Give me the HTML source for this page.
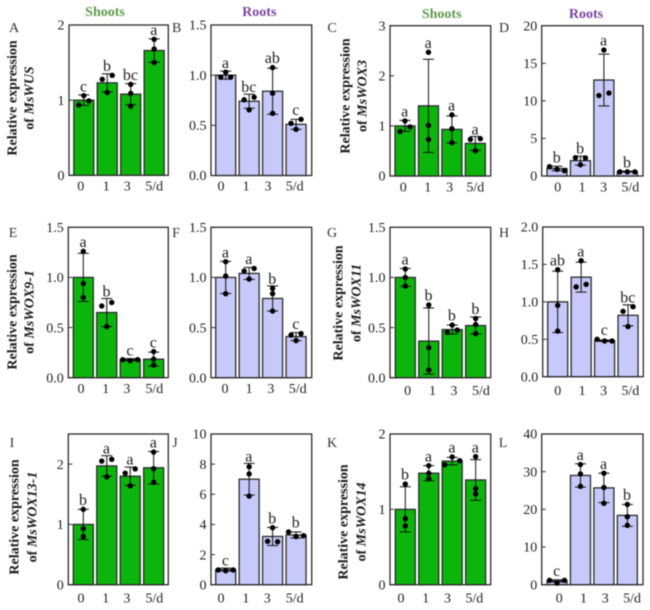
<!DOCTYPE html>
<html>
<head>
<meta charset="utf-8">
<title>Relative expression of MsWOX genes</title>
<style>
html,body{margin:0;padding:0;background:#fff;width:650px;height:610px;overflow:hidden}
svg{display:block;filter:blur(0.4px)}
text{font-family:"Liberation Serif",serif}
</style>
</head>
<body>
<svg id="figure" width="650" height="610" viewBox="0 0 650 610" xmlns="http://www.w3.org/2000/svg"></svg>
<script>
const categories = ['0', '1', '3', '5/d'];

const ticksA = ['0', '1', '2'];
const maxA = 2;
const meansA = [1.0, 1.23, 1.08, 1.66];
const errorsA = [0.07, 0.12, 0.14, 0.155];
const pointsA = [[0.936, 1.06, 0.99], [1.1, 1.277, 1.33], [1.21, 1.09, 0.92], [1.81, 1.68, 1.5]];
const lettersA = ['c', 'b', 'bc', 'a'];

const ticksB = ['0.0', '0.5', '1.0', '1.5'];
const maxB = 1.5;
const meansB = [1.0, 0.74, 0.84, 0.51];
const errorsB = [0.04, 0.07, 0.23, 0.05];
const pointsB = [[0.98, 1.03, 0.98], [0.755, 0.78, 0.655], [1.076, 0.82, 0.62], [0.52, 0.56, 0.46]];
const lettersB = ['a', 'bc', 'ab', 'c'];

const ticksC = ['0', '1', '2', '3'];
const maxC = 3;
const meansC = [1.0, 1.4, 0.93, 0.65];
const errorsC = [0.11, 0.93, 0.27, 0.14];
const pointsC = [[0.89, 1.1, 0.98], [2.47, 1.01, 0.73], [1.22, 0.945, 0.665], [0.73, 0.745, 0.505]];
const lettersC = ['a', 'a', 'a', 'a'];

const ticksD = ['0', '5', '10', '15', '20'];
const maxD = 20;
const meansD = [1.0, 2.04, 12.77, 0.6];
const errorsD = [0.3, 0.6, 3.45, 0.05];
const pointsD = [[1.24, 0.89, 0.71], [2.44, 2.4, 1.5], [16.76, 10.7, 11.04], [0.55, 0.55, 0.55]];
const lettersD = ['b', 'b', 'a', 'b'];

const ticksE = ['0.0', '0.5', '1.0', '1.5'];
const maxE = 1.5;
const meansE = [1.0, 0.65, 0.18, 0.185];
const errorsE = [0.24, 0.14, 0.01, 0.07];
const pointsE = [[1.26, 0.94, 0.8], [0.715, 0.75, 0.51], [0.18, 0.17, 0.18], [0.26, 0.186, 0.126]];
const lettersE = ['a', 'b', 'c', 'c'];

const ticksF = ['0.0', '0.5', '1.0', '1.5'];
const maxF = 1.5;
const meansF = [1.0, 1.04, 0.79, 0.41];
const errorsF = [0.16, 0.06, 0.125, 0.04];
const pointsF = [[1.157, 1.014, 0.838], [1.064, 1.09, 0.984], [0.89, 0.838, 0.665], [0.425, 0.44, 0.37]];
const lettersF = ['a', 'a', 'b', 'c'];

const ticksG = ['0.0', '0.5', '1.0', '1.5'];
const maxG = 1.5;
const meansG = [1.0, 0.365, 0.48, 0.52];
const errorsG = [0.09, 0.33, 0.045, 0.085];
const pointsG = [[1.084, 1.0, 0.914], [0.725, 0.3, 0.076], [0.452, 0.525, 0.475], [0.59, 0.53, 0.44]];
const lettersG = ['a', 'b', 'b', 'b'];

const ticksH = ['0.0', '0.5', '1.0', '1.5', '2.0'];
const maxH = 2;
const meansH = [1.0, 1.33, 0.48, 0.82];
const errorsH = [0.41, 0.2, 0.01, 0.14];
const pointsH = [[1.43, 0.953, 0.61], [1.55, 1.2, 1.234], [0.5, 0.477, 0.477], [0.873, 0.935, 0.67]];
const lettersH = ['ab', 'a', 'c', 'bc'];

const ticksI = ['0', '1', '2'];
const maxI = 2.5;
const meansI = [1.0, 1.97, 1.8, 1.94];
const errorsI = [0.25, 0.17, 0.15, 0.27];
const pointsI = [[1.25, 0.93, 0.8], [2.05, 2.08, 1.79], [1.85, 1.92, 1.64], [2.2, 1.925, 1.7]];
const lettersI = ['b', 'a', 'a', 'a'];

const ticksJ = ['0', '2', '4', '6', '8', '10'];
const maxJ = 10;
const meansJ = [1.0, 7.0, 3.2, 3.3];
const errorsJ = [0.1, 1.05, 0.6, 0.2];
const pointsJ = [[0.98, 0.93, 0.98], [7.83, 7.35, 5.88], [3.78, 2.88, 2.85], [3.5, 3.19, 3.25]];
const lettersJ = ['c', 'a', 'b', 'b'];

const ticksK = ['0', '1', '2'];
const maxK = 2;
const meansK = [1.0, 1.48, 1.64, 1.39];
const errorsK = [0.3, 0.1, 0.05, 0.27];
const pointsK = [[1.336, 0.876, 0.78], [1.58, 1.478, 1.407], [1.593, 1.695, 1.646], [1.7, 1.274, 1.204]];
const lettersK = ['b', 'a', 'a', 'a'];

const ticksL = ['0', '10', '20', '30', '40'];
const maxL = 40;
const meansL = [1.0, 29, 25.7, 18.4];
const errorsL = [0.3, 3.1, 3.9, 2.9];
const pointsL = [[1.15, 0.44, 1.15], [31.9, 29.4, 26.1], [29.6, 25.8, 21.6], [21.3, 18.05, 15.75]];
const lettersL = ['c', 'a', 'a', 'b'];

const GREEN = '#0bb50b';
const PURPLE = '#c6c9f9';
const INK = '#2b2b2b';
const NS = 'http://www.w3.org/2000/svg';
const svg = document.getElementById('figure');

function el(tag, attrs, parent) {
  const n = document.createElementNS(NS, tag);
  for (const k in attrs) n.setAttribute(k, attrs[k]);
  parent.appendChild(n);
  return n;
}

const panels = [
  {id:'A', ticks:ticksA, max:maxA, means:meansA, errs:errorsA, pts:pointsA, letters:lettersA, fill:GREEN, box:[69,168.3,25,175.3], first:83.8, labelY:190.7, shift:[-3,-1,-3.5,0], lx:14, ly:32},
  {id:'B', ticks:ticksB, max:maxB, means:meansB, errs:errorsB, pts:pointsB, letters:lettersB, fill:PURPLE, box:[211,311.7,25,175.5], first:225.7, labelY:190.7, shift:[-4.7,-3,-4.6,-1.3], lx:176.7, ly:32},
  {id:'C', ticks:ticksC, max:maxC, means:meansC, errs:errorsC, pts:pointsC, letters:lettersC, fill:GREEN, box:[390,490.7,25.7,176], first:405, labelY:191.7, shift:[-1.7,-0.7,-2.3,0], lx:332, ly:32},
  {id:'D', ticks:ticksD, max:maxD, means:meansD, errs:errorsD, pts:pointsD, letters:lettersD, fill:PURPLE, box:[541.7,643,25.7,176], first:557, labelY:191.7, shift:[0.7,1.7,-0.3,3], lx:504, ly:32},
  {id:'E', ticks:ticksE, max:maxE, means:meansE, errs:errorsE, pts:pointsE, letters:lettersE, fill:GREEN, box:[68.3,168.3,227.3,377.7], first:83.3, labelY:393, shift:[-2.3,-1,-3.3,0.7], lx:13, ly:237},
  {id:'F', ticks:ticksF, max:maxF, means:meansF, errs:errorsF, pts:pointsF, letters:lettersF, fill:PURPLE, box:[211,311.7,227.3,377.7], first:225.7, labelY:393, shift:[-0.7,0,-1.7,1.7], lx:176, ly:237},
  {id:'G', ticks:ticksG, max:maxG, means:meansG, errs:errorsG, pts:pointsG, letters:lettersG, fill:GREEN, box:[390,490.7,227.3,377.7], first:405.3, labelY:395, shift:[2.3,3.7,1.7,5.3], lx:332, ly:237},
  {id:'H', ticks:ticksH, max:maxH, means:meansH, errs:errorsH, pts:pointsH, letters:lettersH, fill:PURPLE, box:[542.7,643.3,227,376.7], first:557.7, labelY:395, shift:[0,1,-1,2.3], lx:504, ly:237},
  {id:'I', ticks:ticksI, max:maxI, means:meansI, errs:errorsI, pts:pointsI, letters:lettersI, fill:GREEN, box:[68.3,168.3,434,584.7], first:83.3, labelY:602.7, shift:[-2.3,-1,-3.3,0.7], lx:12, ly:447},
  {id:'J', ticks:ticksJ, max:maxJ, means:meansJ, errs:errorsJ, pts:pointsJ, letters:lettersJ, fill:PURPLE, box:[211,311.7,434,584.7], first:225.7, labelY:602.7, shift:[-4.7,-3.3,-5.3,-1.3], lx:175, ly:447},
  {id:'K', ticks:ticksK, max:maxK, means:meansK, errs:errorsK, pts:pointsK, letters:lettersK, fill:GREEN, box:[390,490.7,434,584.7], first:405.3, labelY:602.7, shift:[-4.3,-3,-4.7,-1.3], lx:332, ly:447},
  {id:'L', ticks:ticksL, max:maxL, means:meansL, errs:errorsL, pts:pointsL, letters:lettersL, fill:PURPLE, box:[541.7,643,434,584.7], first:557, labelY:602.7, shift:[2.3,3,1.3,4.7], lx:503, ly:447}
];

const STEP = 23.45;
const BAR_W = 20;
const CAP = 5.5;
const DOT_R = 2.7;

function swarm(values, yFn) {
  const order = values.map((v, i) => i).sort((a, b) => values[a] - values[b]);
  const offsets = values.map(() => 0);
  let cluster = [order[0]];
  const flush = () => {
    const members = cluster.slice().sort((a, b) => a - b);
    if (members.length === 2) { offsets[members[0]] = -5; offsets[members[1]] = 5; }
    if (members.length === 3) { offsets[members[0]] = -7.5; offsets[members[2]] = 7.5; }
  };
  for (let i = 1; i < order.length; i++) {
    if (Math.abs(yFn(values[order[i]]) - yFn(values[order[i - 1]])) < 5) cluster.push(order[i]);
    else { flush(); cluster = [order[i]]; }
  }
  flush();
  return offsets;
}

panels.forEach(p => {
  const [x0, x1, yTop, yBot] = p.box;
  const yScale = v => yBot - (v / p.max) * (yBot - yTop);
  const xScale = i => p.first + i * STEP;

  const g = el('g', {}, svg);
  
  

  const tag = el('text', {x:p.lx, y:p.ly, 'font-size':14, 'text-anchor':'middle', fill:'#333'}, g);
  
  
  tag.textContent = p.id;

  const frame = el('rect', {x:x0, y:yTop, width:x1 - x0, height:yBot - yTop, fill:'none', stroke:INK, 'stroke-width':1.3}, g);
  
  

  p.ticks.forEach(t => {
    const y = yScale(parseFloat(t));
    const mark = el('line', {x1:x0, x2:x0 + 4, y1:y, y2:y, stroke:INK, 'stroke-width':1}, g);
    
    
    const label = el('text', {x:x0 - 4.5, y:y + 4.7, 'font-size':14, 'text-anchor':'end', fill:'#222'}, g);
    
    
    label.textContent = t;
  });

  categories.forEach((c, i) => {
    const cx = xScale(i);
    const mean = p.means[i];
    const err = p.errs[i];
    const pts = p.pts[i];

    const bar = el('rect', {x:cx - BAR_W / 2, y:yScale(mean), width:BAR_W, height:yBot - yScale(mean), fill:p.fill, stroke:INK, 'stroke-width':1.3}, g);
    
    

    const hi = yScale(mean + err);
    const lo = yScale(Math.max(mean - err, 0));
    const stem = el('line', {x1:cx, x2:cx, y1:hi, y2:lo, stroke:'#111', 'stroke-width':1}, g);
    
    
    const capHi = el('line', {x1:cx - CAP, x2:cx + CAP, y1:hi, y2:hi, stroke:'#111', 'stroke-width':1}, g);
    
    
    const capLo = el('line', {x1:cx - CAP, x2:cx + CAP, y1:lo, y2:lo, stroke:'#111', 'stroke-width':1}, g);
    
    

    const offs = swarm(pts, yScale);
    pts.forEach((v, k) => {
      const dot = el('circle', {cx:cx + offs[k], cy:yScale(v), r:DOT_R, fill:'#000'}, g);
      
      
    });

    const top = Math.min(hi, yScale(Math.max.apply(null, pts)) - 2.35);
    const letter = el('text', {x:cx - 0.3, y:top - 2, 'font-size':16, 'text-anchor':'middle', fill:'#222'}, g);
    
    
    letter.textContent = p.letters[i];

    const xl = el('text', {x:cx + p.shift[i], y:p.labelY, 'font-size':14, 'text-anchor':'middle', fill:'#222'}, g);
    
    
    xl.textContent = c;
  });
});

const titles = [
  {text:'Shoots', x:105, y:16, color:'#5f9a4a'},
  {text:'Roots', x:259.3, y:16, color:'#7a45a0'},
  {text:'Shoots', x:441.7, y:18, color:'#5f9a4a'},
  {text:'Roots', x:586, y:18, color:'#7a45a0'}
];
titles.forEach(t => {
  const n = el('text', {x:t.x, y:t.y, 'font-size':14, 'font-weight':'bold', 'text-anchor':'middle', fill:t.color}, svg);
  
  
  n.textContent = t.text;
});

const yTitles = [
  {gene:'MsWUS', x1:12, x2:29, cy:98},
  {gene:'MsWOX3', x1:345, x2:362, cy:96},
  {gene:'MsWOX9-1', x1:12, x2:29, cy:312},
  {gene:'MsWOX11', x1:338, x2:356, cy:303},
  {gene:'MsWOX13-1', x1:14, x2:32, cy:517},
  {gene:'MsWOX14', x1:343, x2:361, cy:522}
];
yTitles.forEach(t => {
  const first = el('text', {'font-size':14, 'font-weight':'bold', 'text-anchor':'middle', fill:'#1a1a1a', transform:'translate(' + (t.x1 + 4.5) + ',' + t.cy + ') rotate(-90)'}, svg);
  
  
  first.textContent = 'Relative expression';
  const second = el('text', {'font-size':14, 'font-weight':'bold', 'text-anchor':'middle', fill:'#1a1a1a', transform:'translate(' + (t.x2 + 4.5) + ',' + t.cy + ') rotate(-90)'}, svg);
  
  
  second.appendChild(document.createTextNode('of '));
  const gene = el('tspan', {'font-style':'italic'}, second);
  gene.textContent = t.gene;
});
</script>
</body>
</html>
